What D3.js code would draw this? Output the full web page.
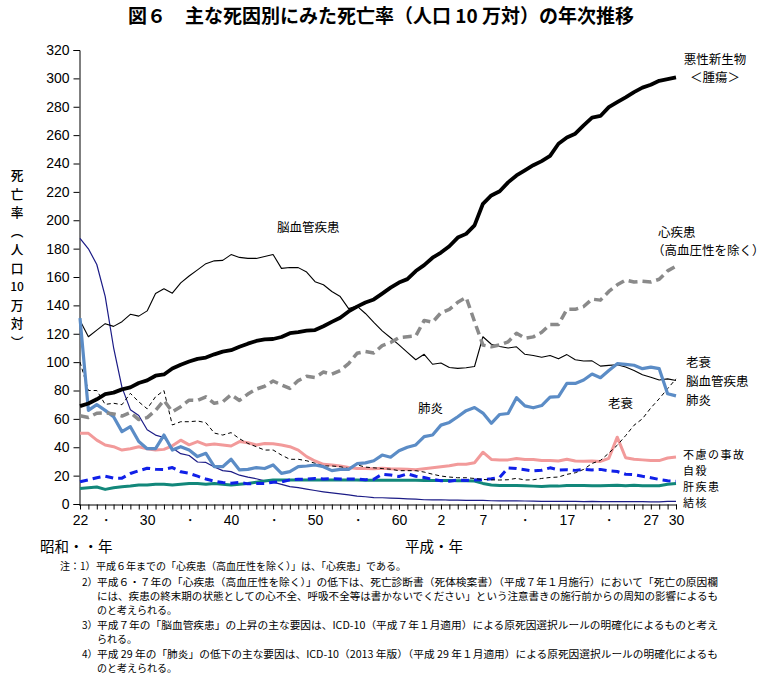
<!DOCTYPE html>
<html><head><meta charset="utf-8">
<script src="https://cdn.jsdelivr.net/npm/d3@7/dist/d3.min.js"></script>
<style>
body{margin:0;background:#fff;}
svg{display:block;font-family:"Noto Sans CJK JP","Noto Sans",sans-serif;}
</style></head><body>
<svg id="c" width="768" height="677"></svg>
<script>
const years = d3.range(1947, 2019);
const tickLabels = {1947:"22",1950:"・",1955:"30",1960:"・",1965:"40",1970:"・",1975:"50",1980:"・",1985:"60",1990:"2",1995:"7",2000:"・",2005:"17",2010:"・",2015:"27",2018:"30"};
const yTicks = d3.range(0, 321, 20);

const cancer = [69.0,70.8,73.8,77.4,78.5,80.8,82.2,85.3,87.1,90.4,
 91.3,95.5,98.2,100.4,102.3,103.2,105.5,107.4,108.4,110.8,
 113.0,114.9,116.0,116.3,117.7,120.4,121.2,122.2,122.6,125.3,
 128.4,131.3,135.7,139.1,142.0,144.2,148.3,152.5,156.1,158.5,
 164.2,168.4,173.6,177.2,181.7,187.8,190.4,196.4,211.6,217.5,
 220.4,226.7,231.6,235.2,238.8,241.7,245.4,253.9,258.3,261.0,
 266.9,272.3,273.5,279.7,283.2,286.6,290.3,293.5,295.5,298.3,
 299.5,300.7];
const heart = [62.2,61.0,64.0,64.2,63.5,62.0,64.5,59.5,60.9,66.0,
 73.0,65.0,68.6,73.2,73.0,75.5,71.0,72.0,77.0,73.0,
 77.5,81.0,83.0,86.7,84.0,81.5,87.0,90.0,89.2,93.0,
 91.5,94.0,99.0,106.2,107.5,106.5,111.6,113.8,117.3,117.9,
 118.4,129.4,128.1,134.8,137.2,142.2,145.6,128.6,112.0,110.8,
 112.2,114.3,120.4,116.8,117.8,121.0,126.5,126.5,137.2,137.2,
 139.2,144.4,143.7,149.8,154.5,157.9,156.5,157.0,156.5,158.4,
 164.3,167.6];
const cerebro = [129.4,117.9,122.6,127.1,125.2,128.5,133.7,132.4,136.1,148.4,
 151.7,148.6,155.9,160.7,165.0,169.4,171.4,171.7,175.8,173.8,
 173.1,173.1,174.4,175.8,166.1,166.7,166.6,163.5,156.7,154.5,
 149.8,146.2,137.7,139.5,134.3,128.0,122.0,117.2,112.2,106.9,
 101.7,105.5,98.5,99.4,96.2,95.6,96.0,96.9,117.9,112.6,
 111.0,110.0,110.8,105.5,104.7,103.4,104.7,102.3,105.3,101.7,
 100.8,100.9,97.2,97.7,98.2,96.5,94.1,91.1,89.4,87.4,
 88.2,87.1];
const pneumonia = [131.0,66.0,70.0,66.0,61.5,51.0,54.5,44.0,39.0,39.0,
 48.6,38.0,40.4,38.0,33.4,35.7,26.3,26.3,31.5,24.0,
 24.4,25.6,25.0,27.5,21.6,22.8,26.3,26.8,27.5,26.3,
 23.5,24.4,24.4,28.4,29.0,30.5,34.5,33.0,37.5,40.0,
 41.6,47.5,48.6,55.6,57.5,61.5,65.8,68.0,64.1,56.9,
 63.1,63.8,74.9,69.2,67.8,69.4,75.3,75.7,85.0,85.0,
 87.4,91.6,89.0,94.1,98.9,98.4,97.8,95.4,96.5,95.4,
 77.7,76.2];
const senility = [100.1,80.0,80.0,70.2,71.0,70.0,78.0,72.0,67.1,75.6,
 80.0,55.7,58.0,58.0,58.5,57.3,50.0,48.6,50.3,46.0,
 42.7,40.4,38.0,38.1,34.5,31.5,31.5,30.5,28.7,26.8,
 26.8,26.3,25.0,27.6,26.0,25.5,25.0,24.5,23.5,23.5,
 23.5,22.5,21.0,19.7,19.0,18.5,18.5,18.0,17.3,17.0,
 16.9,17.1,18.1,16.9,17.1,18.0,18.7,19.0,20.9,22.0,
 24.4,28.6,30.7,35.9,41.4,48.2,55.5,60.1,67.7,74.2,
 81.3,88.2];
const accident = [49.8,49.8,45.0,41.6,40.4,38.0,39.0,40.4,39.0,38.0,
 38.5,41.0,45.0,41.7,44.0,41.6,42.3,41.6,40.9,44.0,
 43.2,41.6,42.7,42.5,41.6,40.4,38.0,33.4,30.3,28.0,
 27.5,26.8,25.8,25.1,25.0,24.8,25.2,24.8,24.6,24.5,
 24.2,24.9,25.5,26.2,26.9,28.0,28.0,29.1,36.5,31.4,
 31.1,31.1,32.0,31.4,31.4,30.7,30.7,30.3,31.6,30.3,
 30.1,30.3,30.0,32.2,47.1,32.6,31.5,31.1,30.6,30.6,
 32.4,33.2];
const suicide = [15.7,17.0,18.5,19.6,18.2,18.2,21.5,23.4,25.2,24.5,
 24.3,25.7,22.7,21.6,19.6,17.6,16.1,15.1,14.7,15.2,
 14.2,14.5,14.5,15.3,15.6,17.0,17.4,17.5,18.0,17.6,
 17.9,17.6,17.7,17.7,17.1,17.5,21.0,20.4,19.4,21.2,
 19.6,18.7,17.3,16.4,16.1,16.9,16.6,16.9,17.2,17.8,
 18.8,25.4,25.0,24.1,23.3,23.8,25.5,24.0,24.2,23.7,
 24.4,24.0,24.4,23.4,22.9,21.0,20.7,19.5,18.5,17.3,
 16.4,16.1];
const liver = [11.0,11.5,12.0,10.3,11.5,12.2,12.7,13.4,13.4,14.0,
 14.0,13.4,14.0,14.5,14.5,14.0,14.5,13.9,13.4,13.9,
 14.5,15.3,16.2,17.0,17.0,17.0,17.0,17.0,17.0,17.0,
 17.0,17.0,17.0,17.0,16.8,16.8,16.8,16.8,16.8,16.8,
 16.7,16.6,16.6,16.6,16.5,16.4,16.3,16.2,14.5,13.4,
 13.0,13.0,13.0,12.9,12.6,12.4,12.6,12.6,13.0,13.1,
 13.0,12.8,12.8,13.1,13.3,12.9,13.2,12.9,12.8,12.8,
 13.9,14.5];
const tb = [187.2,179.9,168.8,146.4,110.3,82.2,66.5,62.4,52.3,48.6,
 46.9,39.4,35.5,34.2,29.6,29.3,26.1,23.5,22.8,20.3,
 18.9,17.8,16.3,15.4,13.8,12.3,11.5,10.5,9.5,8.6,
 7.8,7.1,6.4,5.5,5.1,4.5,4.4,4.1,3.9,3.6,
 3.4,3.0,2.9,3.0,2.8,2.7,2.6,2.6,2.6,2.3,
 2.2,2.2,2.3,2.1,2.0,1.8,1.9,1.8,1.8,1.8,
 1.7,1.8,1.7,1.7,1.7,1.7,1.7,1.7,1.5,1.5,
 1.9,1.8];

const title = "図６　主な死因別にみた死亡率（人口 10 万対）の年次推移";
const yTitleChars = ["死","亡","率","︵","人","口","10","万","対","︶"];
const rightLabels = ["老衰","脳血管疾患","肺炎"];
const rightLabels2 = ["不慮の事故","自殺","肝疾患","結核"];
const notes = [
 ["注：1）","平成６年までの「心疾患（高血圧性を除く）」は、「心疾患」である。"],
 ["2）","平成６・７年の「心疾患（高血圧性を除く）」の低下は、死亡診断書（死体検案書）（平成７年１月施行）において「死亡の原因欄"],
 ["","には、疾患の終末期の状態としての心不全、呼吸不全等は書かないでください」という注意書きの施行前からの周知の影響によるも"],
 ["","のと考えられる。"],
 ["3）","平成７年の「脳血管疾患」の上昇の主な要因は、ICD-10（平成７年１月適用）による原死因選択ルールの明確化によるものと考え"],
 ["","られる。"],
 ["4）","平成 29 年の「肺炎」の低下の主な要因は、ICD-10（2013 年版）（平成 29 年１月適用）による原死因選択ルールの明確化によるも"],
 ["","のと考えられる。"]
];

const svg = d3.select("#c");
const x = d3.scaleLinear().domain([1947, 2018]).range([80, 676]);
const y = d3.scaleLinear().domain([0, 320]).range([504, 50]);

// title
svg.append("text").attr("x", 381).attr("y", 23).attr("text-anchor","middle")
  .attr("font-size", 19).attr("font-weight","bold").text(title);

// axes
const ya = svg.append("g").attr("transform","translate(79.5,0)")
  .call(d3.axisLeft(y).tickValues(yTicks).tickSize(6).tickPadding(4));
ya.selectAll("text").attr("font-size",14).attr("font-family","Liberation Sans, Arial, sans-serif").attr("fill","#000");
ya.selectAll("line,path").attr("stroke","#000");

const xa = svg.append("g").attr("transform","translate(0,504.5)")
  .call(d3.axisBottom(x).tickValues(years).tickSize(5).tickSizeOuter(0).tickPadding(6)
    .tickFormat(d => tickLabels[d] || ""));
xa.select(".domain").attr("d","M79,0.5H677");
xa.selectAll("text").attr("font-size",14).attr("font-family","Liberation Sans, Arial, sans-serif").attr("fill","#000");
xa.selectAll("line,path").attr("stroke","#000");

// y title vertical
const yt = svg.append("g").attr("text-anchor","middle");
yTitleChars.forEach((c,i)=>{
  yt.append("text").attr("x",17).attr("y",180 + i*18.5)
    .attr("font-size", c==="10"?12:12.7).attr("font-weight",500).text(c);
});

svg.append("text").attr("x",40).attr("y",552).attr("font-size",14.5).text("昭和・・年");
svg.append("text").attr("x",405).attr("y",552).attr("font-size",14.5).text("平成・年");

// lines
const line = d3.line().x((d,i)=>x(years[i])).y(d=>y(d));
const series = [
  {d: tb, color:"#1b1b86", w:1.2},
  {d: liver, color:"#12877a", w:3},
  {d: suicide, color:"#1020e8", w:3, dash:"8,5"},
  {d: accident, color:"#f29a9a", w:3},
  {d: senility, color:"#000", w:1, dash:"4,3"},
  {d: cerebro, color:"#000", w:1.1},
  {d: pneumonia, color:"#5b8cc6", w:3.2},
  {d: heart, color:"#8a8a8a", w:3.5, dash:"9,5"},
  {d: cancer, color:"#000", w:3.8}
];
series.forEach(s=>{
  svg.append("path").attr("d", line(s.d)).attr("fill","none")
    .attr("stroke", s.color).attr("stroke-width", s.w)
    .attr("stroke-dasharray", s.dash || null).attr("stroke-linejoin","round");
});

// labels
const lab = svg.append("g").attr("font-size",12.5);
lab.append("text").attr("x",715).attr("y",64).attr("text-anchor","middle").text("悪性新生物");
lab.append("text").attr("x",715).attr("y",82).attr("text-anchor","middle").text("＜腫瘍＞");
lab.append("text").attr("x",277).attr("y",232).text("脳血管疾患");
lab.append("text").attr("x",658).attr("y",237).text("心疾患");
lab.append("text").attr("x",652).attr("y",255).text("（高血圧性を除く）");
lab.append("text").attr("x",418).attr("y",413).text("肺炎");
lab.append("text").attr("x",608).attr("y",408).text("老衰");
rightLabels.forEach((t,i)=> lab.append("text").attr("x",686).attr("y",367+i*19).text(t));
rightLabels2.forEach((t,i)=> lab.append("text").attr("x",683).attr("y",459+i*16)
  .attr("font-size",11).attr("letter-spacing",1.5).text(t));

// notes
const nt = svg.append("g").attr("font-size",10);
const noteY = [570,586,600,614,629,643,658,672];
notes.forEach((n,i)=>{
  if(n[0]) nt.append("text").attr("x", i===0?60:82).attr("y",noteY[i]).text(n[0]);
  const tx = nt.append("text").attr("x", i===0?96:97).attr("y",noteY[i]).text(n[1]);
  if ([1,2,4,6].includes(i)) tx.attr("textLength", 621).attr("lengthAdjust","spacingAndGlyphs");
});
</script>
</body></html>
